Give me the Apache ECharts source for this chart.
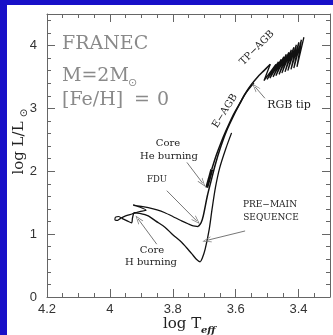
<!DOCTYPE html>
<html>
<head>
<meta charset="utf-8">
<script src="https://cdn.jsdelivr.net/npm/echarts@6/dist/echarts.min.js"></script>
<style>
  html, body { margin: 0; padding: 0; background: #fff; }
  #chart { width: 333px; height: 335px; }
</style>
</head>
<body>
<div id="chart"></div>
<script>
// axis ranges and tick lists
const X_MIN = 3.3, X_MAX = 4.2;
const Y_MIN = 0, Y_MAX = 4.5;
const X_MAJOR = [3.4, 3.6, 3.8, 4.0, 4.2];
const X_MINOR = [3.35, 3.45, 3.5, 3.55, 3.65, 3.7, 3.75, 3.85, 3.9, 3.95, 4.05, 4.1, 4.15];
const Y_MAJOR = [0, 1, 2, 3, 4];
const Y_MINOR = [0.2, 0.4, 0.6, 0.8, 1.2, 1.4, 1.6, 1.8, 2.2, 2.4, 2.6, 2.8, 3.2, 3.4, 3.6, 3.8, 4.2, 4.4];

// track pieces, [log Teff, log L/Lsun]
const PRE_MS = [
  [3.613, 2.61], [3.632, 2.35], [3.651, 2.05], [3.664, 1.75], [3.675, 1.40],
  [3.684, 1.08], [3.697, 0.76], [3.706, 0.62], [3.713, 0.56], [3.725, 0.60],
  [3.740, 0.69], [3.772, 0.87], [3.800, 0.99], [3.825, 1.11], [3.855, 1.21],
  [3.878, 1.29], [3.905, 1.33], [3.922, 1.34], [3.928, 1.26], [3.931, 1.18],
  [3.945, 1.21], [3.962, 1.25]
];
const MAIN_SEQ = [
  [3.962, 1.25], [3.972, 1.28], [3.982, 1.27], [3.984, 1.23], [3.975, 1.22],
  [3.966, 1.25], [3.950, 1.29], [3.930, 1.32], [3.905, 1.36], [3.885, 1.38],
  [3.900, 1.42], [3.926, 1.46], [3.900, 1.44], [3.878, 1.42], [3.850, 1.385],
  [3.825, 1.34], [3.800, 1.28], [3.772, 1.21], [3.750, 1.16], [3.735, 1.13],
  [3.719, 1.12]
];
const RGB = [
  [3.719, 1.12], [3.710, 1.18], [3.703, 1.29], [3.690, 1.61], [3.678, 1.85],
  [3.664, 2.12], [3.648, 2.38], [3.630, 2.63], [3.600, 2.95], [3.582, 3.12],
  [3.567, 3.25], [3.550, 3.36], [3.542, 3.40]
];
const HE_CORE = [[3.692, 1.74], [3.684, 1.88], [3.676, 2.03]];
const E_AGB = [
  [3.676, 2.03], [3.662, 2.25], [3.647, 2.45], [3.632, 2.63], [3.610, 2.87],
  [3.590, 3.05], [3.570, 3.23], [3.550, 3.38], [3.530, 3.50], [3.510, 3.60],
  [3.490, 3.70]
];
// thermal pulses: alternating dip / peak
const TP_AGB = [
  [3.490, 3.70],
  [3.510, 3.44], [3.472, 3.70], [3.500, 3.46], [3.464, 3.74],
  [3.491, 3.48], [3.455, 3.78], [3.481, 3.50], [3.447, 3.82],
  [3.472, 3.52], [3.439, 3.86], [3.462, 3.54], [3.431, 3.89],
  [3.453, 3.56], [3.423, 3.93], [3.443, 3.58], [3.415, 3.97],
  [3.434, 3.60], [3.407, 4.01], [3.424, 3.62], [3.399, 4.05],
  [3.415, 3.64], [3.391, 4.09], [3.405, 3.66], [3.383, 4.13]
];

// annotation arrows: [from, to]
const ARROWS = [
  [[3.755, 2.14], [3.705, 1.81]], // core He burning
  [[3.819, 1.69], [3.724, 1.21]], // FDU
  [[3.851, 0.84], [3.910, 1.24]], // core H burning
  [[3.570, 1.05], [3.692, 0.90]], // pre-main sequence
  [[3.507, 3.16], [3.538, 3.34]]  // RGB tip
];

const FRAME = '#666';
const SERIF = '"DejaVu Serif", serif';
const BIG = '#8a8a8a';
const ARROW_HEAD = 'path://M5,0 L10,10 L8.8,10 L5,2.4 L1.2,10 L0,10 Z';

function xAx(pos, ticks, len, line, labels) {
  return {
    type: 'value', min: X_MIN, max: X_MAX, inverse: true, position: pos,
    axisLine: { show: line, onZero: false, lineStyle: { color: FRAME, width: 1 } },
    axisTick: { show: true, inside: true, length: len, customValues: ticks, lineStyle: { color: FRAME, width: 1 } },
    axisLabel: { show: labels, customValues: ticks, margin: 6, color: '#333', fontFamily: 'Liberation Sans', fontSize: 13 },
    splitLine: { show: false }
  };
}
function yAx(pos, ticks, len, line, labels) {
  return {
    type: 'value', min: Y_MIN, max: Y_MAX, position: pos,
    axisLine: { show: line, onZero: false, lineStyle: { color: FRAME, width: 1 } },
    axisTick: { show: true, inside: true, length: len, customValues: ticks, lineStyle: { color: FRAME, width: 1 } },
    axisLabel: { show: labels, customValues: ticks, margin: 10, color: '#333', fontFamily: 'Liberation Sans', fontSize: 13 },
    splitLine: { show: false }
  };
}
function track(data, width, smooth) {
  return {
    type: 'line', data: data, xAxisIndex: 0, yAxisIndex: 0,
    showSymbol: false, symbol: 'none', smooth: smooth, silent: true,
    lineStyle: { color: '#111', width: width }, z: 3
  };
}
function txt(x, y, text, font, more) {
  return Object.assign({
    type: 'text', x: x, y: y, silent: true,
    style: Object.assign({ text: text, font: font, fill: '#222', align: 'center', verticalAlign: 'middle' },
      (more && more.style) || {})
  }, more && more.rotation ? { rotation: more.rotation } : {});
}

const myChart = echarts.init(document.getElementById('chart'));

const rgbSeries = track(RGB, 1.5, 0.3);
rgbSeries.markLine = {
  silent: true, animation: false,
  symbol: ['none', ARROW_HEAD], symbolSize: [6, 9],
  label: { show: false },
  lineStyle: { color: '#777', width: 1, type: 'solid' },
  data: ARROWS.map(a => [{ coord: a[0] }, { coord: a[1] }])
};

const big = { style: { fill: BIG, align: 'left' } };

const option = {
  animation: false,
  backgroundColor: '#fff',
  grid: { left: 47, top: 14, width: 283, height: 283, show: false },
  xAxis: [
    xAx('bottom', X_MAJOR, 8, true, true),
    xAx('bottom', X_MINOR, 4, false, false),
    xAx('top', X_MAJOR, 8, true, false),
    xAx('top', X_MINOR, 4, false, false)
  ],
  yAxis: [
    yAx('left', Y_MAJOR, 8, true, true),
    yAx('left', Y_MINOR, 4, false, false),
    yAx('right', Y_MAJOR, 8, true, false),
    yAx('right', Y_MINOR, 4, false, false)
  ],
  graphic: [
    { type: 'rect', shape: { x: 0, y: 0, width: 7, height: 335 }, style: { fill: '#1810c8' }, silent: true },
    { type: 'rect', shape: { x: 0, y: 0, width: 333, height: 5 }, style: { fill: '#1810c8' }, silent: true },
    // model description
    txt(62, 44, 'FRANEC', '19px ' + SERIF, big),
    txt(62, 76, 'M=2M', '19px ' + SERIF, big),
    txt(128, 83, '⊙', '11px "DejaVu Sans"', big),
    txt(62, 100, '[Fe/H]', '19px ' + SERIF, big),
    txt(134, 100, '=', '19px ' + SERIF, big),
    txt(157, 100, '0', '19px ' + SERIF, big),
    // annotations
    txt(168, 143, 'Core', '10px ' + SERIF),
    txt(169, 156, 'He burning', '10px ' + SERIF),
    txt(157, 180, 'FDU', '8.5px ' + SERIF),
    txt(152, 250, 'Core', '10px ' + SERIF),
    txt(151, 262, 'H burning', '10px ' + SERIF),
    txt(270, 205, 'PRE−MAIN', '9px ' + SERIF),
    txt(271, 218, 'SEQUENCE', '9px ' + SERIF),
    txt(289, 105, 'RGB tip', '11px ' + SERIF),
    txt(225, 111, 'E−AGB', '10px ' + SERIF, { rotation: 57.7 * Math.PI / 180 }),
    txt(257, 48, 'TP−AGB', '10px ' + SERIF, { rotation: 45 * Math.PI / 180 }),
    // axis titles
    txt(163, 324, 'log T', '15px ' + SERIF, { style: { align: 'left' } }),
    txt(201, 330, 'eff', 'italic bold 10px ' + SERIF, { style: { align: 'left' } }),
    txt(19, 148, 'log L/L', '15px ' + SERIF, { rotation: Math.PI / 2 }),
    txt(24, 113, '⊙', '10px "DejaVu Sans"', { rotation: Math.PI / 2 })
  ],
  series: [
    track(PRE_MS, 1.3, 0.3),
    track(MAIN_SEQ, 1.2, 0.2),
    rgbSeries,
    track(HE_CORE, 3, 0),
    track(E_AGB, 1.5, 0.3),
    track(TP_AGB, 1.3, 0)
  ]
};

myChart.setOption(option);
window.addEventListener('resize', () => { myChart.resize(); });
</script>
</body>
</html>
